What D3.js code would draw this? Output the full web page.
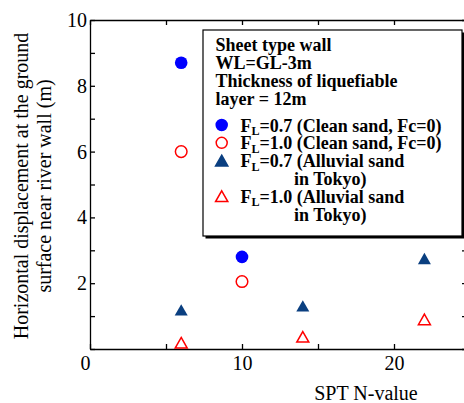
<!DOCTYPE html>
<meta charset="utf-8">
<head>
<style>
  body { margin: 0; background: #fff; }
  svg { display: block; }
  svg text { font-family: "Liberation Serif", "Times New Roman", serif; fill: #000; }
  .axis path, .axis line { stroke: #000; stroke-width: 1.3px; }
  .axis text { font-size: 20px; }
  .legend text { font-size: 18px; font-weight: bold; }
</style>
</head>
<body>
<script src="https://d3js.org/d3.v7.min.js"></script>
<script>
// data: SPT N-value vs horizontal displacement (m)
var cleanN = [6, 10];
var cleanFL07 = [8.7, 2.8];
var cleanFL10 = [6.0, 2.05];
var tokyoN = [6, 14, 22];
var tokyoFL07 = [1.19, 1.31, 2.75];
var tokyoFL10 = [0.19, 0.37, 0.9];

var xTicks = [0, 5, 10, 15, 20, 25];
var xLabels = [0, 10, 20];
var yTicks = [0, 1, 2, 3, 4, 5, 6, 7, 8, 9, 10];
var yLabels = [2, 4, 6, 8, 10];

var headerLines = ["Sheet type wall", "WL=GL-3m", "Thickness of liquefiable", "layer = 12m"];
var legendItems = [
  {sym: "circle", fill: "#0000ff", stroke: "#0000ff", fl: "0.7", txt: " (Clean sand, Fc=0)", more: null},
  {sym: "circle", fill: "#fff", stroke: "#ff0000", fl: "1.0", txt: " (Clean sand, Fc=0)", more: null},
  {sym: "tri", fill: "#0a3f80", stroke: "#0a3f80", fl: "0.7", txt: " (Alluvial sand", more: "in Tokyo)"},
  {sym: "tri", fill: "#fff", stroke: "#ff0000", fl: "1.0", txt: " (Alluvial sand", more: "in Tokyo)"}
];

var W = 464, H = 403;
var svg = d3.select("body").append("svg").attr("width", W).attr("height", H);

var x = d3.scaleLinear().domain([0, 25]).range([90, 470]);
var y = d3.scaleLinear().domain([0, 10]).range([349, 20]);

// triangle centred on its bounding box
var triBox = {
  draw: function(ctx, size) {
    var w = Math.sqrt(size), h = w * 0.88;
    ctx.moveTo(0, -h / 2);
    ctx.lineTo(w / 2, h / 2);
    ctx.lineTo(-w / 2, h / 2);
    ctx.closePath();
  }
};

// axes, ticks pointing inward
var gx = svg.append("g").attr("class", "axis")
  .attr("transform", "translate(0," + y(0) + ")")
  .call(d3.axisBottom(x).tickValues(xTicks).tickSize(-5).tickSizeOuter(0).tickPadding(7)
    .tickFormat(function(d) { return xLabels.indexOf(d) >= 0 ? d : ""; }));
gx.selectAll("text").attr("dx", function(d) { return d === 0 ? -5 : 0; });

var gt = svg.append("g").attr("class", "axis")
  .attr("transform", "translate(0," + y(10) + ")")
  .call(d3.axisTop(x).tickValues(xTicks).tickSize(-5).tickSizeOuter(0).tickFormat(""));

var gy = svg.append("g").attr("class", "axis")
  .attr("transform", "translate(" + x(0) + ",0)")
  .call(d3.axisLeft(y).tickValues(yTicks).tickSize(-5).tickSizeOuter(0).tickPadding(3)
    .tickFormat(function(d) { return yLabels.indexOf(d) >= 0 ? d : ""; }));

var gr = svg.append("g").attr("class", "axis")
  .attr("transform", "translate(" + x(25) + ",0)")
  .call(d3.axisRight(y).tickValues(yTicks).tickSize(-8).tickSizeOuter(0).tickFormat(""));

[gx, gt, gy, gr].forEach(function(g) { g.attr("font-family", null).attr("font-size", null); });

// axis titles
svg.append("text")
  .attr("x", 366).attr("y", 400)
  .attr("text-anchor", "middle")
  .style("font-size", "20px")
  .text("SPT N-value");

var yt = svg.append("text")
  .attr("transform", "rotate(-90)")
  .attr("text-anchor", "middle")
  .style("font-size", "20px");
yt.append("tspan").attr("x", -186).attr("y", 28).text("Horizontal displacement at the ground");
yt.append("tspan").attr("x", -186).attr("y", 51).text("surface near river wall (m)");

// legend box with shadow
var lg = svg.append("g").attr("class", "legend");
lg.append("rect").attr("x", 205.5).attr("y", 32.5).attr("width", 259).attr("height", 206).attr("fill", "#000");
lg.append("rect").attr("x", 203).attr("y", 30).attr("width", 259).attr("height", 206)
  .attr("fill", "#fff").attr("stroke", "#000").attr("stroke-width", 1.2);

headerLines.forEach(function(t, i) {
  lg.append("text").attr("x", 215.5).attr("y", 50.5 + i * 18).text(t);
});

var row = 0;
legendItems.forEach(function(it) {
  var by = 131.5 + row * 17.8;
  if (it.sym === "circle") {
    lg.append("circle").attr("cx", 221.7).attr("cy", by - 6.5).attr("r", 5.5)
      .attr("fill", it.fill).attr("stroke", it.stroke).attr("stroke-width", 1.5);
  } else {
    lg.append("path").attr("d", d3.symbol(triBox, 150)())
      .attr("transform", "translate(221.7," + (by - 6.5) + ")")
      .attr("fill", it.fill).attr("stroke", it.stroke).attr("stroke-width", 1.5);
  }
  var t = lg.append("text").attr("x", 240.5).attr("y", by);
  t.append("tspan").text("F");
  t.append("tspan").attr("dy", 3.5).style("font-size", "12px").text("L");
  t.append("tspan").attr("dy", -3.5).text("=" + it.fl + it.txt);
  row++;
  if (it.more) {
    lg.append("text").attr("x", 294).attr("y", 131.5 + row * 17.8).text(it.more);
    row++;
  }
});

// data marks
var plot = svg.append("g");
plot.selectAll(".c07").data(cleanN).join("circle").attr("class", "c07")
  .attr("cx", function(d) { return x(d); })
  .attr("cy", function(d, i) { return y(cleanFL07[i]); })
  .attr("r", 6.3).attr("fill", "#0000ff");

plot.selectAll(".c10").data(cleanN).join("circle").attr("class", "c10")
  .attr("cx", function(d) { return x(d); })
  .attr("cy", function(d, i) { return y(cleanFL10[i]); })
  .attr("r", 5.8).attr("fill", "none").attr("stroke", "#ff0000").attr("stroke-width", 1.5);

plot.selectAll(".t07").data(tokyoN).join("path").attr("class", "t07")
  .attr("d", d3.symbol(triBox, 169)())
  .attr("transform", function(d, i) { return "translate(" + x(d) + "," + y(tokyoFL07[i]) + ")"; })
  .attr("fill", "#0a3f80");

plot.selectAll(".t10").data(tokyoN).join("path").attr("class", "t10")
  .attr("d", d3.symbol(triBox, 144)())
  .attr("transform", function(d, i) { return "translate(" + x(d) + "," + y(tokyoFL10[i]) + ")"; })
  .attr("fill", "none").attr("stroke", "#ff0000").attr("stroke-width", 1.5);
</script>
</body>
